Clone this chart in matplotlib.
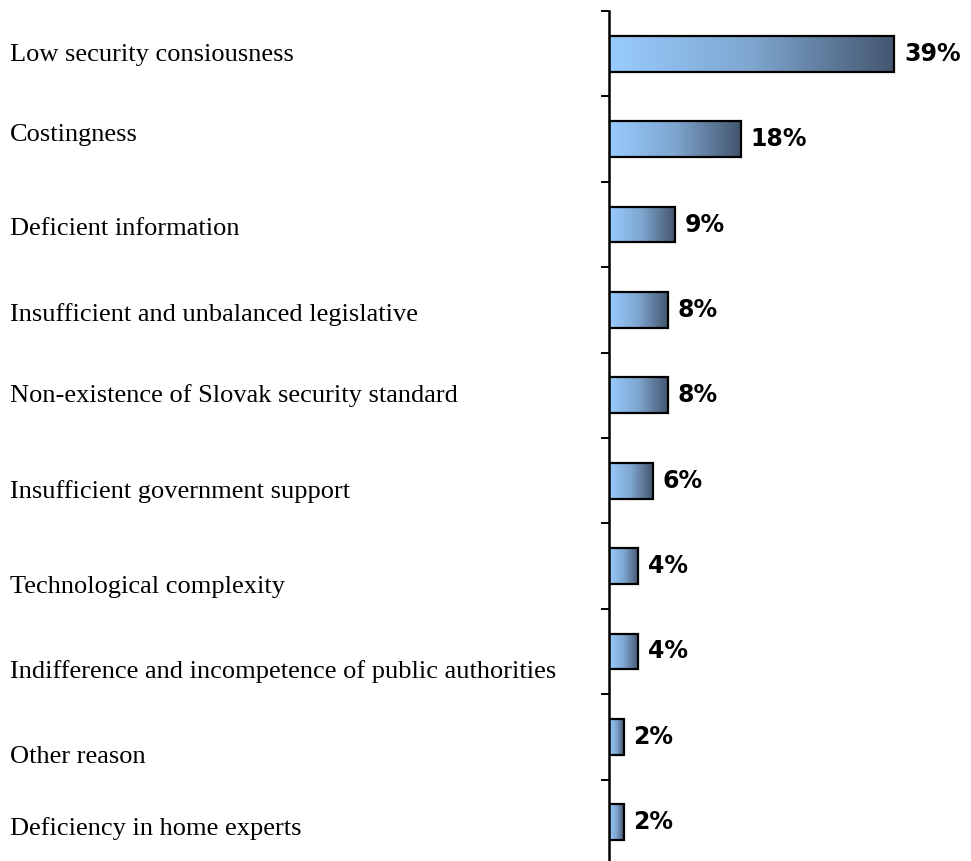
import numpy as np
import matplotlib
matplotlib.use("Agg")
import matplotlib.pyplot as plt
from matplotlib.colors import LinearSegmentedColormap
from matplotlib.patches import Rectangle

# data
reasons = [
    "Low security consiousness",
    "Costingness",
    "Deficient information",
    "Insufficient and unbalanced legislative",
    "Non-existence of Slovak security standard",
    "Insufficient government support",
    "Technological complexity",
    "Indifference and incompetence of public authorities",
    "Other reason",
    "Deficiency in home experts",
]
shares = [39, 18, 9, 8, 8, 6, 4, 4, 2, 2]

# baseline of each reason text, in pixels from the top (separate text boxes in the original)
label_baseline_px = [61, 141, 235, 321, 402, 498, 593, 678, 763, 835]

W, H = 971, 861
fig = plt.figure(figsize=(W / 100, H / 100), dpi=100)
fig.patch.set_facecolor("white")

# axes: spine at x=609 px, categories from y=11 px to y=865 px
ax = fig.add_axes([609 / W, (H - 865) / H, 362 / W, 854 / H])

cmap = LinearSegmentedColormap.from_list("bar", ["#99ccff", "#7ea6cf", "#44566f"])
grad = np.linspace(0, 1, 256).reshape(1, -1)
bar_h = 0.42

pos = np.arange(len(reasons))
bars = ax.barh(pos, shares, height=bar_h, color="none", edgecolor="black",
               linewidth=1.6, zorder=3)
for b, v in zip(bars, shares):
    x0, y0 = b.get_x(), b.get_y()
    w, h = b.get_width(), b.get_height()
    im = ax.imshow(grad, cmap=cmap, aspect="auto", extent=(x0, x0 + w, y0 + h, y0),
                   zorder=2, interpolation="bilinear")
    clip = Rectangle((x0, y0), w, h, transform=ax.transData, facecolor="none", edgecolor="none")
    ax.add_patch(clip)
    im.set_clip_path(clip)
    ax.annotate("%d%%" % v, xy=(x0 + w, y0 + h / 2), xytext=(7, 0),
                textcoords="offset points", ha="left", va="center",
                fontsize=17, fontweight="bold", family="DejaVu Sans", color="black")

ax.set_xlim(0, 362 / 7.32)
ax.set_ylim(len(reasons) - 0.5, -0.5)

for s in ["top", "right", "bottom"]:
    ax.spines[s].set_visible(False)
ax.spines["left"].set_linewidth(1.8)
ax.set_xticks([])
ax.set_yticks(np.arange(len(reasons) + 1) - 0.5)
ax.set_yticklabels([])
ax.tick_params(axis="y", direction="out", length=6, width=1.4)
ax.patch.set_alpha(0)

for name, y in zip(reasons, label_baseline_px):
    fig.text(10 / W, 1 - y / H, name, ha="left", va="baseline",
             fontsize=19, family="Liberation Serif", color="black")

fig.savefig("out.png", dpi=100)
